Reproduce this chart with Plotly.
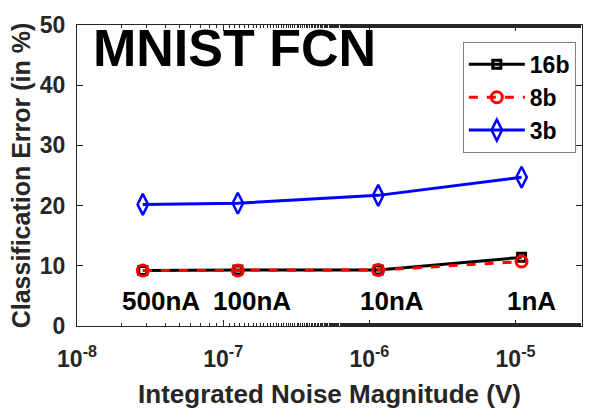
import numpy as np
import plotly.graph_objects as go

# Data
noise_v = [2.82e-8, 1.26e-7, 1.15e-6, 1.1e-5]
current_labels = ["500nA", "100nA", "10nA", "1nA"]
err_16b = [9.2, 9.3, 9.3, 11.4]
err_8b = [9.2, 9.2, 9.3, 10.7]
err_3b = [20.2, 20.4, 21.7, 24.7]
x_tickvals = [1e-8, 1e-7, 1e-6, 1e-5]
x_ticktext = ["10<sup>-8</sup>", "10<sup>-7</sup>", "10<sup>-6</sup>", "10<sup>-5</sup>"]
y_tickvals = [0, 10, 20, 30, 40, 50]

FONT = "Liberation Sans, Arial, sans-serif"
AX = "#262626"

fig = go.Figure()
fig.add_trace(go.Scatter(x=noise_v, y=err_16b, name="16b", mode="lines+markers",
                         line=dict(color="black", width=3),
                         marker=dict(symbol="square-open", size=8, color="black", line=dict(width=3))))
fig.add_trace(go.Scatter(x=noise_v, y=err_8b, name="8b", mode="lines+markers",
                         line=dict(color="#ff0000", width=3, dash="dash"),
                         marker=dict(symbol="circle-open", size=11, color="#ff0000", line=dict(width=3))))
fig.add_trace(go.Scatter(x=noise_v, y=err_3b, name="3b", mode="lines+markers",
                         line=dict(color="#0000ff", width=3),
                         marker=dict(symbol="diamond-tall-open", size=15, color="#0000ff", line=dict(width=2.5))))

shifts = [18, 14, 14, 10]
for xv, lab, sh in zip(noise_v, current_labels, shifts):
    fig.add_annotation(x=np.log10(xv), y=4.2, text=lab, showarrow=False, xshift=sh,
                       xanchor="center", yanchor="middle",
                       font=dict(family=FONT, size=26, color="black", weight="bold"))

fig.add_annotation(xref="paper", yref="paper", x=0.028, y=0.922, text="MNIST FCN",
                   showarrow=False, xanchor="left", yanchor="middle",
                   font=dict(family=FONT, size=52, color="black", weight="bold"))

fig.update_layout(
    width=597, height=418,
    margin=dict(l=77, r=15, t=25, b=92),
    paper_bgcolor="white", plot_bgcolor="white",
    showlegend=True,
    legend=dict(x=0.764, y=0.944, xanchor="left", yanchor="top",
                bordercolor="#808080", borderwidth=1, bgcolor="white",
                font=dict(family=FONT, size=23, color="black", weight="bold"),
                itemwidth=56, tracegroupgap=0),
    font=dict(family=FONT, color=AX),
)
fig.update_xaxes(type="log", range=[-8, -4.545],
                 tickvals=x_tickvals, ticktext=x_ticktext,
                 ticks="inside", ticklen=6, tickcolor=AX,
                 ticklabelstandoff=12,
                 minor=dict(ticks="inside", ticklen=3, tickcolor=AX, showgrid=False),
                 showline=True, linecolor=AX, linewidth=1, mirror="ticks",
                 showgrid=False, zeroline=False,
                 tickfont=dict(family=FONT, size=23, color=AX, weight="bold"),
                 title=dict(text="Integrated Noise Magnitude (V)", standoff=14,
                            font=dict(family=FONT, size=26, color=AX, weight="bold")))
fig.update_yaxes(range=[0, 50], tickvals=y_tickvals,
                 ticks="inside", ticklen=6, tickcolor=AX,
                 ticklabelstandoff=6,
                 showline=True, linecolor=AX, linewidth=1, mirror="ticks",
                 showgrid=False, zeroline=False,
                 tickfont=dict(family=FONT, size=23, color=AX, weight="bold"),
                 title=dict(text="Classification Error (in %)", standoff=2,
                            font=dict(family=FONT, size=25, color=AX, weight="bold")))

fig.write_html("out.html")
